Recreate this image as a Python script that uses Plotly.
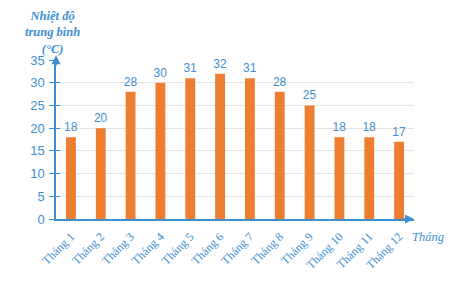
import plotly.graph_objects as go

months = ["Tháng 1", "Tháng 2", "Tháng 3", "Tháng 4", "Tháng 5", "Tháng 6",
          "Tháng 7", "Tháng 8", "Tháng 9", "Tháng 10", "Tháng 11", "Tháng 12"]
temps = [18, 20, 28, 30, 31, 32, 31, 28, 25, 18, 18, 17]
yticks = [0, 5, 10, 15, 20, 25, 30, 35]

BLUE = "#3d8fd1"
ORANGE = "#ED7D31"

fig = go.Figure()
fig.add_trace(go.Bar(
    x=months, y=temps, marker=dict(color=ORANGE, line=dict(width=0)),
    width=0.33, text=[str(t) for t in temps], textposition="outside",
    constraintext="none",
    textfont=dict(color=BLUE, size=12, family="Liberation Sans"),
    cliponaxis=False,
))
# invisible trace on overlay axis to draw inner tick marks
fig.add_trace(go.Scatter(x=[months[0]], y=[0], yaxis="y2", mode="none",
                         hoverinfo="skip"))

fig.update_layout(
    width=464, height=281,
    margin=dict(l=56, r=50, t=60, b=62),
    plot_bgcolor="white", paper_bgcolor="white",
    showlegend=False,
    xaxis=dict(
        range=[-0.5, len(months) - 0.5], automargin=False,
        tickangle=-45, tickfont=dict(color=BLUE, size=12, family="Liberation Serif"),
        showline=True, linecolor=BLUE, linewidth=1.5, ticks="", showgrid=False,
        ticklabelstandoff=4,
    ),
    yaxis=dict(
        range=[0, 35], tickvals=yticks, showgrid=True, gridcolor="#e3e3e3",
        tickfont=dict(color=BLUE, size=13, family="Liberation Sans"),
        showline=True, linecolor=BLUE, linewidth=1.5, ticks="outside",
        ticklen=5, tickcolor=BLUE, zeroline=False, ticklabelstandoff=2,
        automargin=False,
    ),
    yaxis2=dict(
        range=[0, 35], tickvals=yticks, overlaying="y", side="left",
        showgrid=False, showticklabels=False, ticks="inside", ticklen=4,
        tickcolor=BLUE, showline=False, zeroline=False,
    ),
    annotations=[
        dict(xref="paper", yref="paper", x=0, y=1.03, ax=0, ay=12,
             axref="pixel", ayref="pixel", showarrow=True, arrowhead=2,
             arrowsize=1.2, arrowwidth=1.5, arrowcolor=BLUE, text=""),
        dict(xref="paper", yref="paper", x=1.0, y=0, ax=-12, ay=0,
             axref="pixel", ayref="pixel", showarrow=True, arrowhead=2,
             arrowsize=1.2, arrowwidth=1.5, arrowcolor=BLUE, text=""),
        dict(xref="paper", yref="paper", x=-0.01, y=1.01, showarrow=False,
             text="<b><i>Nhiệt độ<br>trung bình<br>(°C)</i></b>", xanchor="center",
             yanchor="bottom", align="center",
             font=dict(color=BLUE, size=12.5, family="Liberation Serif")),
        dict(xref="paper", yref="paper", x=0.99, y=-0.115, showarrow=False,
             text="<i>Tháng</i>", xanchor="left", yanchor="middle",
             font=dict(color=BLUE, size=12.5, family="Liberation Serif")),
    ],
)

fig.write_html("out.html")
